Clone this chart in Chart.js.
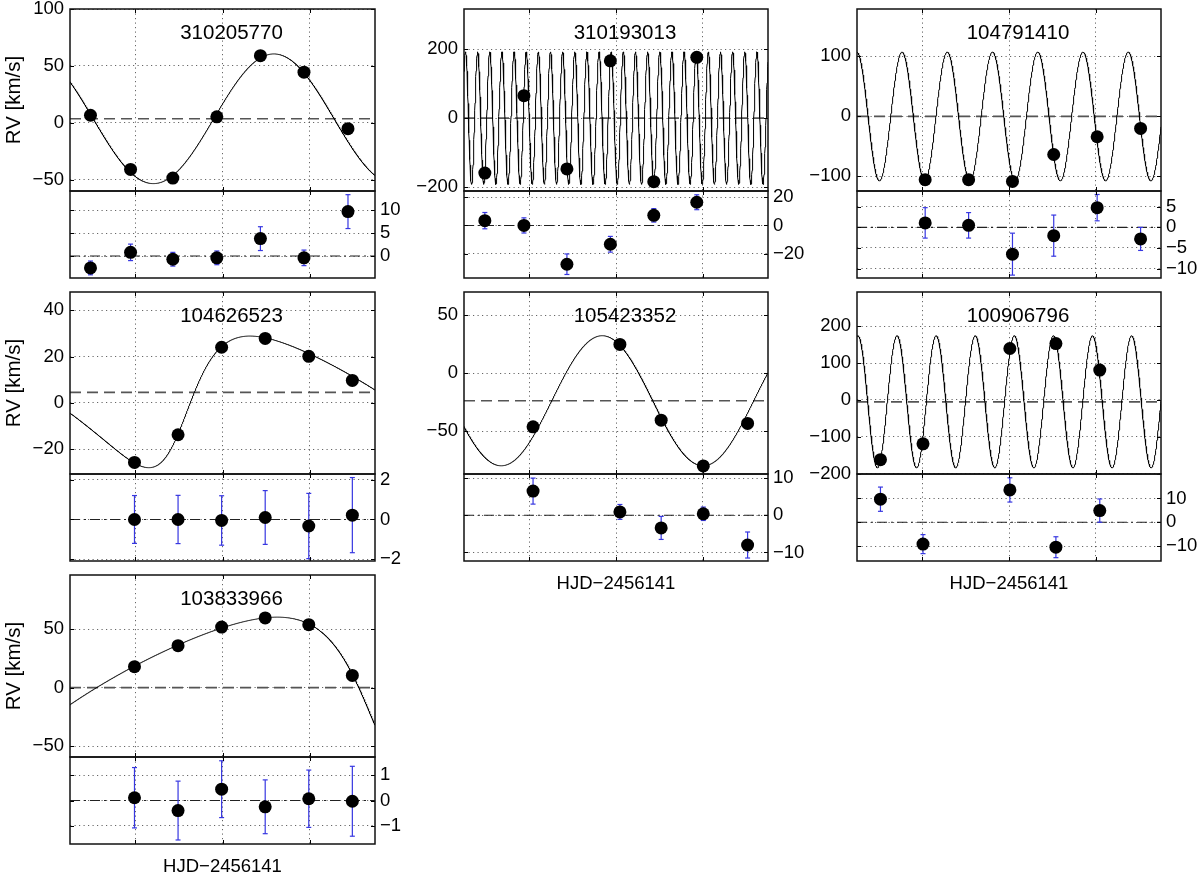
<!DOCTYPE html>
<html lang="en">
<head>
<meta charset="utf-8">
<title>RV curves</title>
<script src="https://cdn.jsdelivr.net/npm/chart.js@4.4.1/dist/chart.umd.min.js"></script>
<style>
  html, body { margin: 0; padding: 0; background: #fff; }
  #fig { position: relative; width: 1200px; height: 874px; overflow: hidden; background: #fff; }
  .box { position: absolute; }
</style>
</head>
<body>
<div id="fig"></div>
<script>
// panel order: row by row, 3 columns
const starIds = ['310205770', '310193013', '104791410', '104626523', '105423352', '100906796', '103833966'];

// observation times, days from HJD 2456141
const obsTime = [
  [-1.03, -0.11, 0.86, 1.87, 2.87, 3.87, 4.88],
  [-1.02, -0.12, 0.87, 1.87, 2.87, 3.86],
  [0.07, 1.07, 2.08, 3.03, 4.03, 5.03],
  [-0.02, 0.98, 1.98, 2.98, 3.98, 4.98],
  [0.09, 2.09, 3.04, 4.01, 5.03],
  [-0.96, 0.02, 2.02, 3.08, 4.09],
  [-0.02, 0.98, 1.98, 2.98, 3.98, 4.98]
];

// measured radial velocities [km/s]
const obsRV = [
  [6.6, -41, -48.6, 5.2, 59, 44.5, -5.2],
  [-159, 65, -147, 166, -184, 176],
  [-106, -106, -109, -64, -34.4, -20.5],
  [-25.6, -13.7, 24, 27.8, 20.1, 9.7],
  [-46.3, 24.8, -40.6, -80, -43.4],
  [-162, -119, 139.7, 153, 81],
  [18, 36, 52, 59.8, 54, 10.5]
];

// residuals (O-C) and their errors [km/s]
const resid = [
  [-2.6, 0.8, -0.7, -0.4, 3.8, -0.4, 9.7],
  [3.4, 0, -27.6, -13.4, 7.2, 16.5],
  [1.1, 0.5, -6.5, -2, 4.8, -2.8],
  [0, 0, -0.05, 0.1, -0.33, 0.22],
  [6.5, 0.9, -3.4, 0.4, -8],
  [9.7, -9.2, 13.6, -10.5, 4.9],
  [0.11, -0.4, 0.45, -0.25, 0.07, -0.03]
];
const residErr = [
  [1.5, 1.8, 1.5, 1.5, 2.6, 1.7, 3.7],
  [5.8, 5.4, 7.3, 5.6, 4.8, 5.3],
  [3.7, 3.1, 5.1, 5.0, 3.2, 2.8],
  [1.21, 1.22, 1.25, 1.36, 1.65, 1.9],
  [3.5, 2.0, 3.1, 1.8, 3.5],
  [5.1, 4.0, 5.1, 4.4, 4.9],
  [1.2, 1.17, 1.13, 1.07, 1.14, 1.39]
];

// fitted orbits: period [d], semi-amplitude, eccentricity, omega [deg], periastron/max time, systemic velocity
const orbitP     = [5.53, 0.2796, 1.0417, 7.77, 4.65, 0.9002, 10.89];
const orbitK     = [57, 192, 107.5, 28.35, 56.1, 179.2, 73.3];
const orbitE     = [0, 0, 0, 0.35, 0, 0, 0.35];
const orbitW     = [0, 0, 0, 245.4, 0, 0, 120];
const orbitTp    = [3.18, -0.067, -0.463, 1.024, 1.683, -0.578, 5.70];
const orbitGamma = [3.5, 0, -0.5, 4.6, -23.8, -5, 0];

// axes
const xMin = -1.5, xMax = 5.5;
const xTicks = [0, 2, 4];
const rvMin = [-60, -211, -125, -30.6, -87, -201, -59.4];
const rvMax = [100, 316, 179, 47.8, 70, 293, 96.6];
const rvTicks = [[-50, 0, 50, 100], [-200, 0, 200], [-100, 0, 100], [-20, 0, 20, 40], [-50, 0, 50], [-200, -100, 0, 100, 200], [-50, 0, 50]];
const resMin = [-4.8, -37.4, -12.3, -2.1, -12.3, -16.3, -1.73];
const resMax = [14.2, 24.5, 8.85, 2.3, 11.1, 20.3, 1.73];
const resTicks = [[0, 5, 10], [-20, 0, 20], [-10, -5, 0, 5], [-2, 0, 2], [-10, 0, 10], [-10, 0, 10], [-1, 0, 1]];

const xLabel = 'HJD\u22122456141';
const yLabel = 'RV [km/s]';

// page layout
const colLeft = [70, 464, 857];
const colWidth = [305, 304, 304];
const rowTop = [9, 292, 575];
const topH = 182, resH = 87;

const FONT = '"Liberation Sans", Arial, Helvetica, sans-serif';
const tickFont = { family: FONT, size: 18.5 };
const labelFont = { family: FONT, size: 20.5 };
const gridColor = 'rgba(0,0,0,0.6)';
const gridDash = [1.2, 3.3];
const barBlue = 'rgb(55,55,225)';

const fig = document.getElementById('fig');

function fmt(v) {
  return v < 0 ? '\u2212' + Math.abs(v) : String(v);
}

// Keplerian radial-velocity model
function orbitRV(i, t) {
  const e = orbitE[i], w = orbitW[i] * Math.PI / 180;
  const M = 2 * Math.PI * (t - orbitTp[i]) / orbitP[i];
  let E = M;
  for (let k = 0; k < 40; k++) E -= (E - e * Math.sin(E) - M) / (1 - e * Math.cos(E));
  const nu = 2 * Math.atan2(Math.sqrt(1 + e) * Math.sin(E / 2), Math.sqrt(1 - e) * Math.cos(E / 2));
  return orbitGamma[i] + orbitK[i] * (Math.cos(nu + w) + e * Math.cos(w));
}

function curvePoints(i) {
  const pts = [];
  const n = 1400;
  for (let k = 0; k <= n; k++) {
    const t = xMin + (xMax - xMin) * k / n;
    pts.push({ x: t, y: orbitRV(i, t) });
  }
  return pts;
}

function errorBarPoints(i) {
  const pts = [];
  obsTime[i].forEach((t, k) => {
    pts.push({ x: t, y: resid[i][k] - residErr[i][k] });
    pts.push({ x: t, y: resid[i][k] + residErr[i][k] });
    pts.push({ x: t, y: null });
  });
  return pts;
}

// frame, inner tick marks and star label
const framePlugin = {
  id: 'frame',
  afterDraw(chart, args, opts) {
    const { ctx, chartArea: a, scales } = chart;
    const L = Math.round(a.left), R = Math.round(a.right), T = Math.round(a.top), B = Math.round(a.bottom);
    ctx.save();
    ctx.strokeStyle = '#000';
    ctx.lineWidth = 1;
    ctx.beginPath();
    scales.x.ticks.forEach(tk => {
      const px = Math.round(scales.x.getPixelForValue(tk.value)) + 0.5;
      ctx.moveTo(px, T); ctx.lineTo(px, T + 4);
      ctx.moveTo(px, B); ctx.lineTo(px, B - 4);
    });
    scales.y.ticks.forEach(tk => {
      const py = Math.round(scales.y.getPixelForValue(tk.value)) + 0.5;
      ctx.moveTo(L, py); ctx.lineTo(L + 4, py);
      ctx.moveTo(R, py); ctx.lineTo(R - 4, py);
    });
    ctx.stroke();
    ctx.lineWidth = 1.5;
    ctx.strokeStyle = '#111';
    ctx.strokeRect(L, T, R - L, B - T);
    if (opts.text) {
      ctx.fillStyle = '#000';
      ctx.font = labelFont.size + 'px ' + FONT;
      ctx.textAlign = 'center';
      ctx.textBaseline = 'middle';
      ctx.fillText(opts.text, (L + R) / 2 + 9, T + 24);
    }
    ctx.restore();
  }
};

function makeCanvas(left, top, w, h) {
  const d = document.createElement('div');
  d.className = 'box';
  d.style.left = left + 'px';
  d.style.top = top + 'px';
  d.style.width = w + 'px';
  d.style.height = h + 'px';
  const c = document.createElement('canvas');
  d.appendChild(c);
  fig.appendChild(d);
  return c;
}

function xScale(withLabel) {
  return {
    type: 'linear', min: xMin, max: xMax,
    afterBuildTicks: s => { s.ticks = xTicks.map(v => ({ value: v })); },
    afterFit: s => { s.height = withLabel ? 38 : 0; s.paddingLeft = 0; s.paddingRight = 0; },
    ticks: { display: false },
    grid: { color: gridColor, lineWidth: 1, drawTicks: false },
    border: { display: false, dash: gridDash },
    title: { display: withLabel, text: xLabel, color: '#000', font: tickFont, padding: { top: 0, bottom: 4 } }
  };
}

function yScale(min, max, ticks, side, title) {
  return {
    type: 'linear', position: side, min: min, max: max,
    afterBuildTicks: s => { s.ticks = ticks.map(v => ({ value: v })); },
    afterFit: s => { s.width = 70; s.paddingTop = 0; s.paddingBottom = 0; },
    ticks: { padding: side === 'left' ? 6 : 5, color: '#000', font: tickFont, callback: v => fmt(v) },
    grid: { color: gridColor, lineWidth: 1, drawTicks: false },
    border: { display: false, dash: gridDash },
    title: { display: !!title, text: title || '', color: '#000', font: labelFont, padding: { top: 2, bottom: 0 } }
  };
}

const common = {
  responsive: true,
  maintainAspectRatio: false,
  animation: false,
  events: [],
  plugins: { legend: { display: false }, tooltip: { enabled: false } }
};

starIds.forEach((id, i) => {
  const col = i % 3, row = Math.floor(i / 3);
  const L = colLeft[col], W = colWidth[col], T = rowTop[row];
  const pts = obsTime[i].map((t, k) => ({ x: t, y: obsRV[i][k] }));
  const res = obsTime[i].map((t, k) => ({ x: t, y: resid[i][k] }));
  const withX = (i === 4 || i === 5 || i === 6);

  // RV panel
  new Chart(makeCanvas(L - 70, T - 12, W + 140, topH + 24), {
    type: 'scatter',
    data: {
      datasets: [
        { data: pts, order: 0, pointRadius: 6.5, pointBorderWidth: 0, backgroundColor: '#000', borderColor: '#000' },
        { data: curvePoints(i), order: 1, showLine: true, pointRadius: 0, borderColor: '#000', borderWidth: 1, tension: 0 },
        { data: [{ x: xMin, y: orbitGamma[i] }, { x: xMax, y: orbitGamma[i] }], order: 2, showLine: true, pointRadius: 0,
          borderColor: '#555', borderWidth: 1.7, borderDash: [11, 6] }
      ]
    },
    options: Object.assign({}, common, {
      layout: { padding: { left: 0, right: 70, top: 12, bottom: 12 } },
      scales: {
        x: xScale(false),
        y: yScale(rvMin[i], rvMax[i], rvTicks[i], 'left', col === 0 ? yLabel : '')
      },
      plugins: Object.assign({}, common.plugins, { frame: { text: id } })
    }),
    plugins: [framePlugin]
  });

  // residual panel
  const sep = T + topH;
  new Chart(makeCanvas(L - 70, sep - 12, W + 140, resH + 12 + (withX ? 38 : 12)), {
    type: 'scatter',
    data: {
      datasets: [
        { data: res, order: 0, pointRadius: 6.5, pointBorderWidth: 0, backgroundColor: '#000', borderColor: '#000' },
        { data: errorBarPoints(i), order: 1, showLine: true, spanGaps: false, borderColor: barBlue, borderWidth: 1.2,
          pointStyle: 'line', pointRadius: 2.5, pointBorderColor: barBlue, pointBorderWidth: 1.2 },
        { data: [{ x: xMin, y: 0 }, { x: xMax, y: 0 }], order: 2, showLine: true, pointRadius: 0,
          borderColor: '#222', borderWidth: 1.1, borderDash: [10, 4, 2, 4] }
      ]
    },
    options: Object.assign({}, common, {
      layout: { padding: { left: 70, right: 0, top: 12, bottom: withX ? 0 : 12 } },
      scales: {
        x: xScale(withX),
        y: yScale(resMin[i], resMax[i], resTicks[i], 'right', '')
      },
      plugins: Object.assign({}, common.plugins, { frame: { text: '' } })
    }),
    plugins: [framePlugin]
  });
});
</script>
</body>
</html>
